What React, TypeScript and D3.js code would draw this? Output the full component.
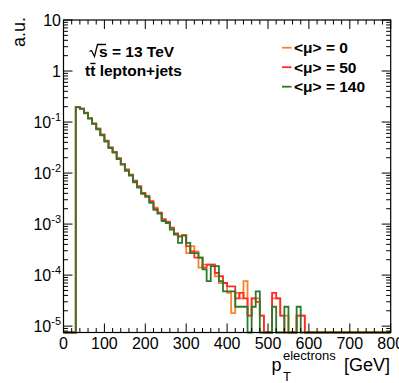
import React from "react";
import * as d3 from "d3";

// bin lower edges (GeV), 10 GeV bins; bins outside this list are empty
const binLow = [30, 40, 50, 60, 70, 80, 90, 100, 110, 120, 130, 140, 150, 160, 170, 180, 190, 200, 210, 220, 230, 240, 250, 260, 270, 280, 290, 300, 310, 320, 330, 340, 350, 360, 370, 380, 390, 400, 410, 420, 430, 440, 450, 460, 470, 480, 490, 500, 510, 520, 530, 540, 550, 560, 570, 580, 590];

const mu0 = [0.197, 0.180, 0.148, 0.118, 0.093, 0.074, 0.056, 0.0425, 0.0315, 0.0258, 0.0192, 0.0152, 0.0118, 0.0091, 0.0069, 0.0056, 0.0040, 0.0036, 0.0027, 0.0021, 0.0017, 0.0012, 0.00112, 0.00082, 0.00064, 0.00056, 0.00060, 2.7e-4, 3.7e-4, 2.9e-4, 1.4e-4, 1.6e-4, 1.6e-4, 1.6e-4, 9.5e-5, 7e-5, 7e-5, 4.5e-5, 1.8e-5, 4.5e-5, 3.5e-5, 7.6e-5, 1.6e-5, 3.5e-5, 3.5e-5, 1.6e-5, 0, 0, 3.5e-5, 3.5e-5, 1.6e-5, 1.6e-5, 0, 0, 1.6e-5, 1.6e-5, 0];

const mu50 = [0.195, 0.183, 0.152, 0.119, 0.094, 0.074, 0.057, 0.043, 0.032, 0.026, 0.0195, 0.0150, 0.0116, 0.0093, 0.0071, 0.0054, 0.0041, 0.0034, 0.0028, 0.0020, 0.00165, 0.00125, 0.00110, 0.00085, 0.00066, 0.00058, 0.00060, 3.7e-4, 2.9e-4, 2.2e-4, 2.2e-4, 1.4e-4, 1.6e-4, 1.6e-4, 1.1e-4, 9.5e-5, 7e-5, 6e-5, 6e-5, 3.5e-5, 4.5e-5, 3.5e-5, 1.6e-5, 3.5e-5, 3e-5, 1.6e-5, 0, 0, 4.5e-5, 3.5e-5, 1.6e-5, 0, 0, 0, 1.6e-5, 1.6e-5, 0];

const mu140 = [0.196, 0.184, 0.150, 0.117, 0.092, 0.072, 0.055, 0.0415, 0.031, 0.0252, 0.0188, 0.0147, 0.0110, 0.0089, 0.0066, 0.0052, 0.0039, 0.0035, 0.0026, 0.0019, 0.0016, 0.00115, 0.00105, 0.00078, 0.00062, 4.3e-4, 6.0e-4, 4.3e-4, 2.7e-4, 2.7e-4, 2.2e-4, 1.3e-4, 7.6e-5, 1.5e-4, 1.5e-4, 7.6e-5, 4.8e-5, 4.8e-5, 4.8e-5, 2.4e-5, 2.4e-5, 2.4e-5, 0, 2.4e-5, 4.8e-5, 0, 0, 0, 2.4e-5, 0, 0, 2.4e-5, 0, 0, 2.4e-5, 0, 0];

const seriesNames = ["<\u03bc> = 0", "<\u03bc> = 50", "<\u03bc> = 140"];
const seriesColors = ["#ff7f2a", "#ff2b2b", "#2b7a2b"];
const seriesData = [mu0, mu50, mu140];

const xTickValues = [0, 100, 200, 300, 400, 500, 600, 700, 800];
const yDecades = [-5, -4, -3, -2, -1, 0, 1];

const W = 399, H = 383;
const L = 63.5, R = 390.7, T = 20, B = 332.5;
const X_MIN = 0, X_MAX = 800, BIN_W = 10;
const Y_MIN = 7.5e-6, Y_MAX = 10;

export default function App() {
  const x = d3.scaleLinear().domain([X_MIN, X_MAX]).range([L, R]);
  const y = d3.scaleLog().domain([Y_MIN, Y_MAX]).range([B, T]);

  const stepLine = d3
    .line<[number, number]>()
    .x((d) => x(d[0]))
    .y((d) => y(Math.max(d[1], Y_MIN)))
    .curve(d3.curveStepAfter);

  const paths = seriesData.map((vals) => {
    const pts: [number, number][] = [];
    for (let lo = X_MIN; lo < X_MAX; lo += BIN_W) {
      const idx = binLow.indexOf(lo);
      pts.push([lo, idx >= 0 ? vals[idx] : 0]);
    }
    pts.push([X_MAX, 0]);
    return stepLine(pts) || "";
  });

  const xMinor: number[] = d3.range(X_MIN, X_MAX + 1, 20);
  const yMinor: number[] = [];
  for (let e = -6; e <= 1; e++) {
    for (let k = 2; k <= 9; k++) {
      const v = k * Math.pow(10, e);
      if (v >= Y_MIN && v <= Y_MAX) yMinor.push(v);
    }
  }

  const font = "'Liberation Sans', Arial, Helvetica, sans-serif";
  const majorLen = 9, minorLen = 4.5;

  return (
    <svg width={W} height={H} style={{ position: "absolute", left: 0, top: 0, background: "#fff" }} fontFamily={font}>
      <rect x={0} y={0} width={W} height={H} fill="#fff" />
      {/* histograms */}
      <g fill="none" strokeWidth={1.8} strokeLinejoin="miter">
        {paths.map((p, i) => (
          <path key={i} d={p} stroke={seriesColors[i]} />
        ))}
      </g>
      {/* frame */}
      <rect x={L} y={T} width={R - L} height={B - T} fill="none" stroke="#000" strokeWidth={1.2} />
      {/* ticks */}
      <g stroke="#000" strokeWidth={1}>
        {xMinor.map((v) => {
          const len = v % 100 === 0 ? majorLen : minorLen;
          return (
            <g key={"xt" + v}>
              <line x1={x(v)} x2={x(v)} y1={B} y2={B - len} />
              <line x1={x(v)} x2={x(v)} y1={T} y2={T + len} />
            </g>
          );
        })}
        {yDecades.map((e) => {
          const v = Math.pow(10, e);
          return (
            <g key={"yM" + e}>
              <line x1={L} x2={L + majorLen} y1={y(v)} y2={y(v)} />
              <line x1={R} x2={R - majorLen} y1={y(v)} y2={y(v)} />
            </g>
          );
        })}
        {yMinor.map((v, i) => (
          <g key={"ym" + i}>
            <line x1={L} x2={L + minorLen} y1={y(v)} y2={y(v)} />
            <line x1={R} x2={R - minorLen} y1={y(v)} y2={y(v)} />
          </g>
        ))}
      </g>
      {/* x tick labels */}
      <g fontSize={16} textAnchor="middle" fill="#000">
        {xTickValues.map((v) => (
          <text key={"xl" + v} x={x(v)} y={349}>
            {v}
          </text>
        ))}
      </g>
      {/* y tick labels */}
      <g fontSize={16} textAnchor="end" fill="#000">
        {yDecades.map((e) => {
          const v = Math.pow(10, e);
          const yy = y(v) + 6;
          if (e === 1) return <text key={"yl" + e} x={61} y={yy}>10</text>;
          if (e === 0) return <text key={"yl" + e} x={61} y={yy}>1</text>;
          return (
            <text key={"yl" + e} x={61} y={yy}>
              10<tspan fontSize={11} dy={-7}>{String(e)}</tspan>
            </text>
          );
        })}
      </g>
      {/* axis titles */}
      <text x={25} y={17} fontSize={18} textAnchor="end" transform="rotate(-90 25 17)">a.u.</text>
      <text x={271.5} y={371} fontSize={18}>p</text>
      <text x={283} y={360} fontSize={13}>electrons</text>
      <text x={283} y={380.5} fontSize={13}>T</text>
      <text x={390} y={371} fontSize={18} textAnchor="end">[GeV]</text>
      {/* annotations */}
      <path d="M89.5,51.5 L91.5,50.5 L94.5,56.5 L97.5,44.5 L106,44.5" fill="none" stroke="#000" strokeWidth={1.3} />
      <text x={99} y={56.5} fontSize={15.5} fontWeight="bold">s = 13 TeV</text>
      <text x={85} y={76} fontSize={15.5} fontWeight="bold">tt lepton+jets</text>
      <line x1={90.3} x2={95.5} y1={63.5} y2={63.5} stroke="#000" strokeWidth={1.4} />
      {/* legend */}
      {seriesNames.map((n, i) => {
        const ly = 47.7 + i * 19.5;
        return (
          <g key={"lg" + i}>
            <line x1={282} x2={291.5} y1={ly} y2={ly} stroke={seriesColors[i]} strokeWidth={1.8} />
            <text x={294} y={ly + 5.5} fontSize={15.5} fontWeight="bold">{n}</text>
          </g>
        );
      })}
    </svg>
  );
}
